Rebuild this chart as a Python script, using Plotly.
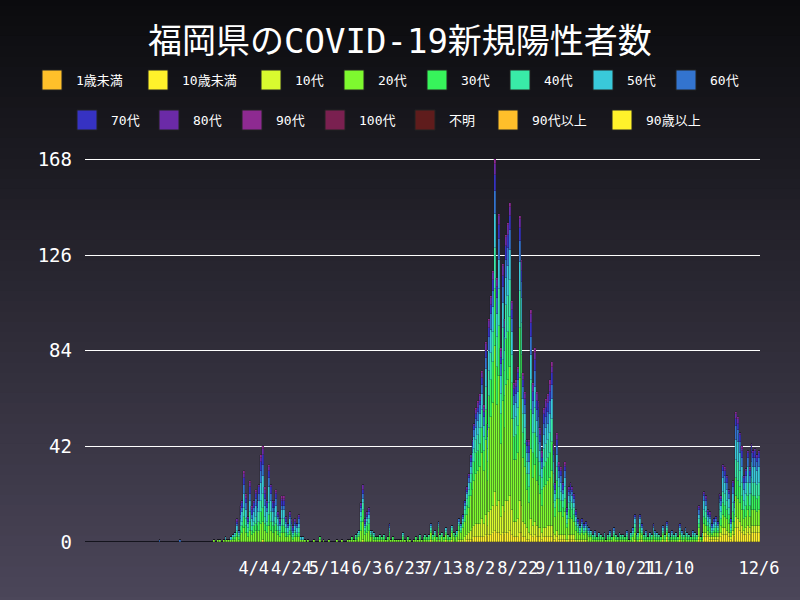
import plotly.graph_objects as go

# daily totals (index 0 .. 357)
totals = ([0]*39 + [1] + [0]*10 + [1] + [0]*17 +
          [1,0,1,1,0,1,2,1] +
          [1,2,3,4,10,5,16,18,31,21,11,27,16,18,23,18,25,38,42,24,18,34,25,18,18,23,13,10,20,20,11,8,13,10,7,10,8,12,2,2] +
          [1,0,1,0,0,1,0,0,2,0,1,0,0,1,0,0,0,1,0,0,1,0,0,1] +
          [1,2,1,3,4,5,17,25,10,13,15,5,5,4,2,2,3,2,3,1,2,8,1,2,1,1,1,1,4,1,0,2,1] +
          [0,1,2,1,3] +
          [1,2,3,2,3,8,3,5,2,9,3,4,2,6,3,2,7,4,3,5,10] +
          [8,12,18,24,30,38,45,52,59,62,65,75,60,88,52,98,108,119,168,
           116,144,85,122,98,135,140,149,106,70,71,77,143,124,74,66,45,45,102,70,85,66,62,50,40,59,63,65,71,79,43,26,48,35,33,26,35,15,24,26,24,21,14,10,7,10,8,9,7,6,5] +
          [3,5,2,4,3,2,4,1,3,5,2,6,3,2,4,3] +
          [3,2,5,1,4,6,12,3,4,12,8,3,5,2,4,3,8,5,4,3,2,7,3,9,4,2,5,3,4,2,8,5,3,6,4,3,2,5,4,3,16,2,4] +
          [22,20,14,13,8,10,11,9,21,20,34,33,29,23,10,27,18,57,55,48,42,29,32,40,33,43,40,41,38,40])

age_groups = ["10歳未満","10代","20代","30代","40代","50代","60代","70代","80代","90代"]
# composition by phase (start index, shares per age group, read from the stacks)
phases = [
    (0,   [0, 0, 0, 0, 0, 0, 10, 0, 0, 0]),
    (68,  [1, 1, 20, 14, 14, 20, 12, 10, 6, 2]),
    (116, [1, 2, 30, 20, 12, 10, 8, 8, 7, 2]),
    (178, [3, 8, 38, 16, 12, 10, 6, 3, 3, 1]),
    (199, [3, 10, 38, 15, 11, 9, 6, 4, 3, 1]),
    (235, [3, 7, 30, 16, 13, 11, 8, 6, 4, 2]),
    (269, [4, 6, 25, 15, 15, 15, 10, 6, 3, 1]),
    (328, [10, 8, 16, 15, 15, 16, 10, 6, 3, 1]),
]

colors = {"1歳未満":"#ffc02a","10歳未満":"#fff22b","10代":"#d9fb2f","20代":"#7ef92f",
          "30代":"#37f45b","40代":"#39eaa8","50代":"#39c9da","60代":"#3374cf",
          "70代":"#3632c2","80代":"#6b2aa7","90代":"#8e2a91","100代":"#7a2050",
          "不明":"#5f1c1c","90代以上":"#ffbf2a","90歳以上":"#fff22b"}
legend_order = ["1歳未満","10歳未満","10代","20代","30代","40代","50代","60代",
                "70代","80代","90代","100代","不明","90代以上","90歳以上"]

n = len(totals)
series = {g: [0]*n for g in age_groups}
for i, t in enumerate(totals):
    shares = [p for s, p in phases if s <= i][-1]
    tot = sum(shares)
    raw = [t*s/tot for s in shares]
    vals = [int(r) for r in raw]
    rem = t - sum(vals)
    order = sorted(range(len(raw)), key=lambda k: -(raw[k]-vals[k]))
    for k in order[:rem]:
        vals[k] += 1
    for g, v in zip(age_groups, vals):
        series[g][i] = v

fig = go.Figure()
xs = list(range(n))
for g in age_groups:
    fig.add_trace(go.Bar(x=xs, y=series[g], marker=dict(color=colors[g],
                  line=dict(color="rgba(20,20,30,0.6)", width=0.4)), showlegend=False))

# gradient background (paper coords: plot spans px 85..760 x, 158..542 y)
N = 60
for k in range(N):
    f = k/(N-1)
    c0, c1 = (11, 11, 14), (76, 71, 90)
    col = "rgb(%d,%d,%d)" % tuple(int(a+(b-a)*f) for a, b in zip(c0, c1))
    top_px = -5 + k*(612/N)
    bot_px = top_px + 612/N + 1
    fig.add_shape(type="rect", xref="paper", yref="paper", x0=-0.2, x1=1.2,
                  y0=(542-bot_px)/384, y1=(542-top_px)/384, fillcolor=col, line_width=0, layer="below")

# manual legend
row1 = legend_order[:8]; row2 = legend_order[8:]
x1px = [42,148,261,344,427,510,593,676]
x2px = [77,159,242,325,415,498,612]
font = "DejaVu Sans Mono, Noto Sans CJK JP"
for row, xpx, ypx in ((row1, x1px, 80), (row2, x2px, 120)):
    for name, px in zip(row, xpx):
        fig.add_shape(type="rect", xref="paper", yref="paper",
                      x0=(px-85)/675, x1=(px+20-85)/675,
                      y0=(542-ypx-10)/384, y1=(542-ypx+10)/384,
                      fillcolor=colors[name], line=dict(color="#222", width=1))
        fig.add_annotation(xref="paper", yref="paper", x=(px+32-85)/675, y=(542-ypx)/384,
                           text=name, showarrow=False, xanchor="left", yanchor="middle",
                           font=dict(family=font, size=13, color="white"))

tick_idx = [89,109,129,149,169,189,209,229,249,269,289,309,357]
tick_text = ["4/4","4/24","5/14","6/3","6/23","7/13","8/2","8/22","9/11","10/1","10/21","11/10","12/6"]

fig.update_layout(
    width=800, height=600, margin=dict(l=85, r=40, t=158, b=58, autoexpand=False),
    paper_bgcolor="#26252e", plot_bgcolor="rgba(0,0,0,0)",
    barmode="stack", bargap=0,
    title=dict(text="福岡県のCOVID-19新規陽性者数", x=0.5, y=0.932, xanchor="center", yanchor="middle",
               font=dict(family=font, size=34, color="white")),
    xaxis=dict(range=[-0.5, n-0.5], tickvals=tick_idx, ticktext=tick_text, showgrid=False,
               zeroline=False, tickfont=dict(family=font, size=17, color="white"), ticks="",
               tickangle=0, automargin=False, ticklabelstandoff=14),
    yaxis=dict(range=[0, 168.6], tickvals=[0,42,84,126,168], gridcolor="white", gridwidth=1,
               zeroline=False, tickfont=dict(family=font, size=19, color="white"), ticks="",
               automargin=False, ticklabelstandoff=12),
)
fig.write_html("out.html", config={"displayModeBar": False},
               post_script="document.body.style.margin='0';")
